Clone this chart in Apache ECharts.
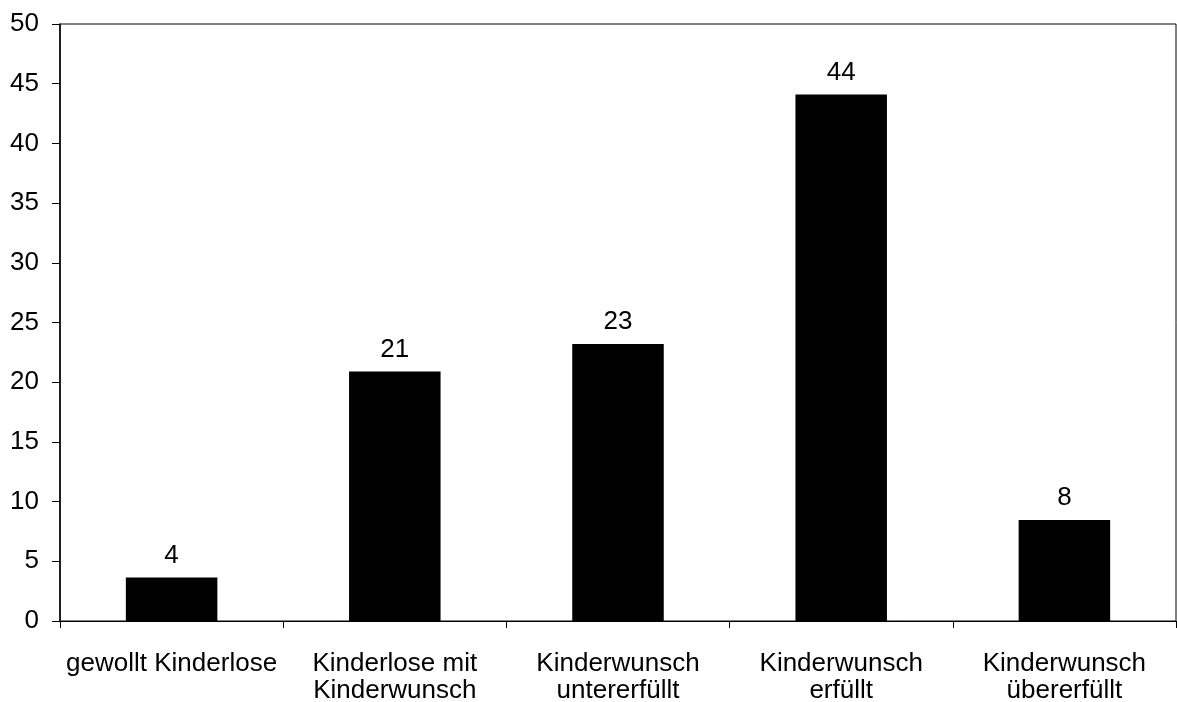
<!DOCTYPE html>
<html>
<head>
<meta charset="utf-8">
<script src="https://cdn.jsdelivr.net/npm/echarts@6/dist/echarts.min.js"></script>
<style>
html,body{margin:0;padding:0;background:#fff;}
#chart{width:1177px;height:702px;}
</style>
</head>
<body>
<div id="chart"></div>
<script>
const categories = ["gewollt Kinderlose", "Kinderlose mit\nKinderwunsch", "Kinderwunsch\nuntererfüllt", "Kinderwunsch\nerfüllt", "Kinderwunsch\nübererfüllt"];
const values = [3.65, 20.9, 23.2, 44.1, 8.45];
const yTicks = [0, 5, 10, 15, 20, 25, 30, 35, 40, 45, 50];

const chart = echarts.init(document.getElementById('chart'));
const font = 'Liberation Sans, Arial, sans-serif';
chart.setOption({
  animation: false,
  backgroundColor: '#fff',
  grid: { left: 60, right: 1, top: 24, bottom: 81, outerBoundsMode: 'none', containLabel: false, show: true, borderColor: '#000', borderWidth: 1, backgroundColor: 'transparent' },
  xAxis: {
    type: 'category',
    data: categories,
    axisLine: { lineStyle: { color: '#000', width: 1 } },
    axisTick: { show: true, alignWithLabel: false, length: 7, lineStyle: { color: '#000' } },
    axisLabel: { color: '#000', fontSize: 26, fontFamily: font, margin: 29, lineHeight: 27, interval: 0 },
    splitLine: { show: false }
  },
  yAxis: {
    type: 'value',
    min: yTicks[0],
    max: yTicks[yTicks.length - 1],
    interval: 5,
    axisLine: { show: true, lineStyle: { color: '#000', width: 1.5 } },
    axisTick: { show: true, length: 8, lineStyle: { color: '#000' } },
    axisLabel: { color: '#000', fontSize: 26, fontFamily: font, margin: 21 },
    splitLine: { show: false }
  },
  series: [{
    type: 'bar',
    data: values,
    barWidth: '41%',
    itemStyle: { color: '#000' },
    label: {
      show: true,
      position: 'top',
      distance: 9,
      color: '#000',
      fontSize: 26,
      fontFamily: font,
      formatter: p => Math.round(p.value)
    }
  }]
});
</script>
</body>
</html>
